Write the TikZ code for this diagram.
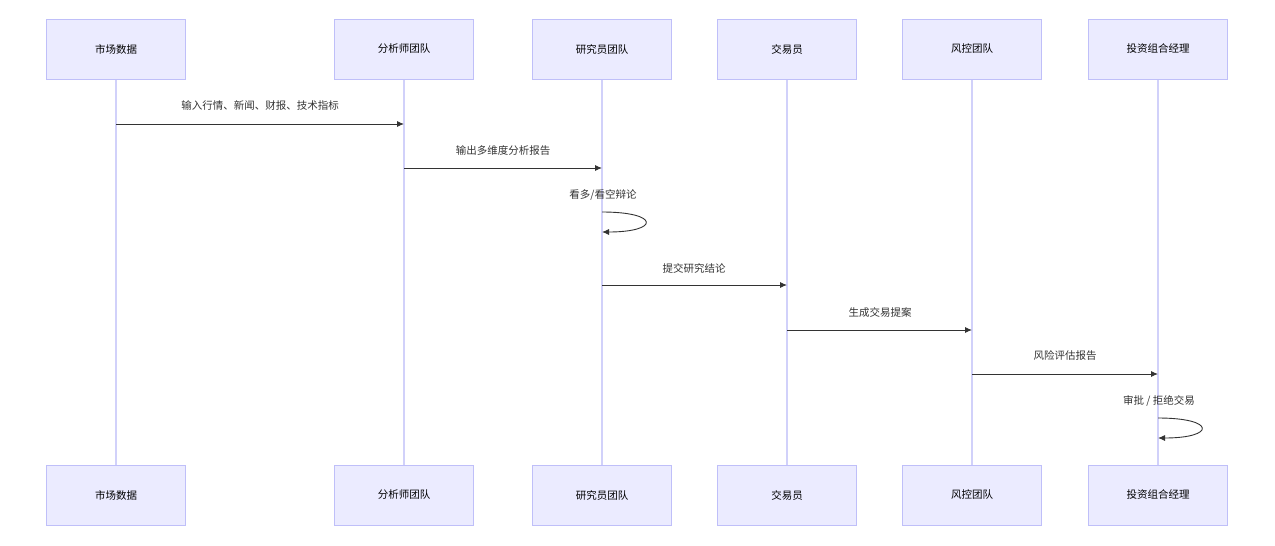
\documentclass[tikz,border=0pt]{standalone}
\usepackage{fontspec}
\newfontfamily\cjk{Noto Sans CJK SC}
\usetikzlibrary{arrows.meta}
\begin{document}
\begin{tikzpicture}[x=1pt,y=-1pt,font=\cjk\fontsize{10.5pt}{12pt}\selectfont,
  actor/.style={draw=black!10!blue!25,fill=blue!8,line width=0.6pt,minimum width=139pt,minimum height=60pt,inner sep=0pt},
  life/.style={draw=black!10!blue!18,line width=1.2pt},
  msg/.style={draw=black!80,line width=0.9pt,-{Latex[length=7pt,width=6pt]}},
  lbl/.style={text=black!80,inner sep=0pt}]
\useasboundingbox (0,0) rectangle (1275,546);
\foreach \n/\x/\t in {a/116/市场数据,b/404/分析师团队,c/602/研究员团队,d/787/交易员,e/972/风控团队,f/1158/投资组合经理}{
  \draw[life] (\x,79) -- (\x,465);
  \node[actor] (\n top) at (\x,49) {\t};
  \node[actor] (\n bot) at (\x,495) {\t};
  \foreach \y in {124,168,212,232,285,330,374,418,438} \coordinate (\n\y) at (\x,\y);
}
\draw[msg] (a124) -- (b124); \node[lbl] at (260,106) {输入行情、新闻、财报、技术指标};
\draw[msg] (b168) -- (c168); \node[lbl] at (503,151) {输出多维度分析报告};
\draw[msg] (c212) .. controls (660,212) and (660,232) .. (c232); \node[lbl] at (603,195) {看多/看空辩论};
\draw[msg] (c285) -- (d285); \node[lbl] at (694,268) {提交研究结论};
\draw[msg] (d330) -- (e330); \node[lbl] at (880,312) {生成交易提案};
\draw[msg] (e374) -- (f374); \node[lbl] at (1065,356) {风险评估报告};
\draw[msg] (f418) .. controls (1216,418) and (1216,438) .. (f438); \node[lbl] at (1159,401) {审批 / 拒绝交易};
\end{tikzpicture}
\end{document}
